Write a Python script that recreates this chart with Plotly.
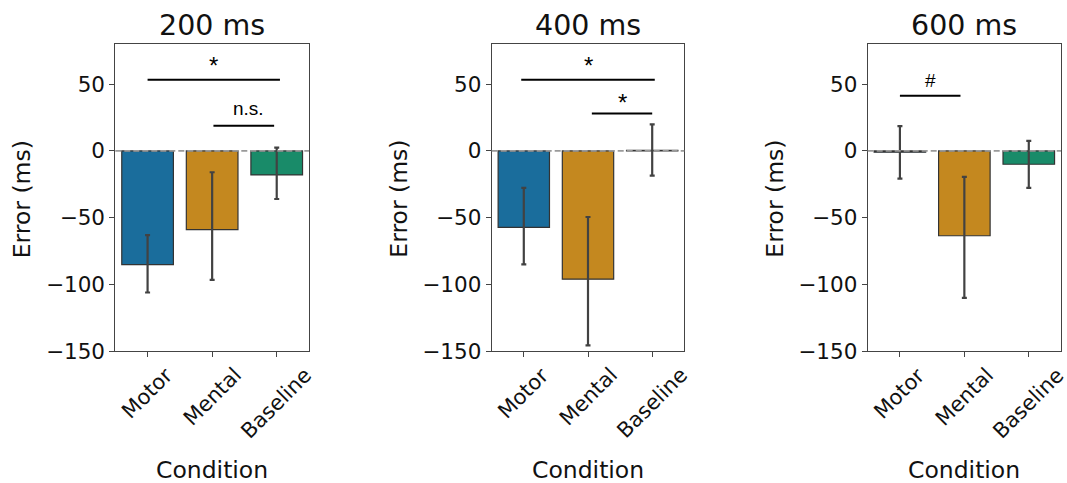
import plotly.graph_objects as go

conditions = ["Motor", "Mental", "Baseline"]
panel_titles = ["200 ms", "400 ms", "600 ms"]
bar_colors = ["#1a6d9c", "#c4881f", "#198b69"]

mean_200 = [-85.2, -59.0, -18.0]
low_200 = [-106.0, -96.5, -36.0]
high_200 = [-63.0, -16.0, 2.5]

mean_400 = [-57.2, -96.0, 0.4]
low_400 = [-85.0, -145.5, -18.5]
high_400 = [-27.7, -49.5, 19.8]

mean_600 = [-1.0, -63.5, -10.0]
low_600 = [-20.7, -110.0, -27.7]
high_600 = [18.5, -19.5, 7.5]

# significance brackets
sig_panel = [0, 0, 1, 1, 2]
sig_x0 = [0.0, 1.02, -0.04, 1.06, 0.0]
sig_x1 = [2.05, 1.96, 2.04, 2.0, 0.94]
sig_y = [53.2, 18.8, 53.2, 28.0, 41.3]
sig_label_x = [1.02, 1.56, 1.0, 1.53, 0.48]
sig_label_y = [64.0, 32.0, 64.0, 36.5, 53.0]
sig_label = ["*", "n.s.", "*", "*", "#"]

means = [mean_200, mean_400, mean_600]
lows = [low_200, low_400, low_600]
highs = [high_200, high_400, high_600]

W, H = 1067, 483
x_domains = [(115.3 / W, 309.0 / W), (491.7 / W, 684.3 / W), (867.7 / W, 1061.0 / W)]
y_domain = (1 - 351.3 / H, 1 - 44.0 / H)

FONT = "DejaVu Sans"
TXT = "#111111"
fig = go.Figure()

for i in range(3):
    ax = "" if i == 0 else str(i + 1)
    m, lo, hi = means[i], lows[i], highs[i]
    fig.add_trace(go.Bar(
        x=conditions, y=m, width=0.8,
        marker=dict(color=bar_colors, line=dict(color="#333333", width=1.2)),
        error_y=dict(type="data", symmetric=False,
                     array=[h - v for h, v in zip(hi, m)],
                     arrayminus=[v - l for v, l in zip(m, lo)],
                     color="#424242", thickness=2.2, width=2.5),
        xaxis="x" + ax, yaxis="y" + ax, showlegend=False,
    ))
    fig.add_shape(type="line", xref=f"x{ax} domain", yref="y" + ax,
                  x0=0, x1=1, y0=0, y1=0, layer="above",
                  line=dict(color="#9a9a9a", width=1.7, dash="6px,3px"))
    xa = dict(domain=x_domains[i], anchor="y" + ax, range=[-0.5, 2.5],
              type="category", automargin=False,
              showline=True, mirror=True, linecolor="#444444", linewidth=1,
              ticks="outside", ticklen=5, tickcolor="#444444",
              showticklabels=False,
              showgrid=False, zeroline=False, fixedrange=True)
    ya = dict(domain=y_domain, anchor="x" + ax, range=[-150, 80],
              tickvals=[-150, -100, -50, 0, 50], automargin=False,
              showline=True, mirror=True, linecolor="#444444", linewidth=1,
              ticks="outside", ticklen=5, tickcolor="#444444",
              tickfont=dict(family=FONT, size=21.5, color=TXT),
              showgrid=False, zeroline=False, fixedrange=True)
    fig.layout["xaxis" + ax] = xa
    fig.layout["yaxis" + ax] = ya

    # rotated category labels, centred under each tick like the reference
    for j, c in enumerate(conditions):
        fig.add_annotation(text=c, xref="x" + ax, yref="paper", x=j,
                           y=1 - 362 / H, xanchor="center", yanchor="top",
                           textangle=-45, showarrow=False, borderpad=0,
                           font=dict(family=FONT, size=21, color=TXT))

    cx = (x_domains[i][0] + x_domains[i][1]) / 2
    fig.add_annotation(text=panel_titles[i], xref="paper", yref="paper",
                       x=cx, y=1 - 26 / H, xanchor="center", yanchor="middle",
                       showarrow=False, font=dict(family=FONT, size=28.5, color=TXT))
    fig.add_annotation(text="Condition", xref="paper", yref="paper",
                       x=cx, y=1 - 470 / H, xanchor="center", yanchor="middle",
                       showarrow=False, font=dict(family=FONT, size=23.5, color=TXT))
    fig.add_annotation(text="Error (ms)", xref="paper", yref="paper",
                       x=(x_domains[i][0] * W - 93) / W, y=1 - 199 / H,
                       xanchor="center", yanchor="middle", textangle=-90,
                       showarrow=False, font=dict(family=FONT, size=23.5, color=TXT))

for p, x0, x1, yv, lx, ly, lab in zip(sig_panel, sig_x0, sig_x1, sig_y,
                                     sig_label_x, sig_label_y, sig_label):
    ax = "" if p == 0 else str(p + 1)
    fig.add_shape(type="line", xref="x" + ax, yref="y" + ax,
                  x0=x0, x1=x1, y0=yv, y1=yv, layer="above",
                  line=dict(color="#000000", width=2))
    fig.add_annotation(text=lab, xref="x" + ax, yref="y" + ax, x=lx, y=ly,
                       xanchor="center", yanchor="middle", showarrow=False,
                       font=dict(family="Liberation Sans",
                                 size=24 if lab == "*" else 19, color="#000000"))

fig.update_layout(template="none", width=W, height=H,
                  margin=dict(l=0, r=0, t=0, b=0, pad=0),
                  plot_bgcolor="white", paper_bgcolor="white", bargap=0.2)

fig.write_html("out.html", config={"displayModeBar": False},
               post_script="document.body.style.margin='0';")
